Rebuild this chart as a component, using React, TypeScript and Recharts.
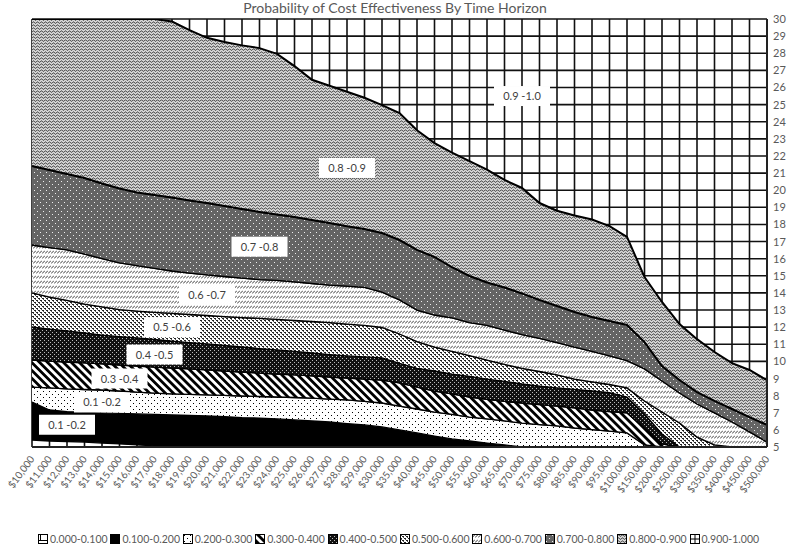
import React from "react";
import {
  AreaChart,
  Area,
  XAxis,
  YAxis,
  CartesianGrid,
  ReferenceDot,
} from "recharts";

// willingness-to-pay thresholds (x categories)
const COSTS = [
  "$10,000", "$11,000", "$12,000", "$13,000", "$14,000", "$15,000", "$16,000",
  "$17,000", "$18,000", "$19,000", "$20,000", "$21,000", "$22,000", "$23,000",
  "$24,000", "$25,000", "$26,000", "$27,000", "$28,000", "$29,000", "$30,000",
  "$35,000", "$40,000", "$45,000", "$50,000", "$55,000", "$60,000", "$65,000",
  "$70,000", "$75,000", "$80,000", "$85,000", "$90,000", "$95,000", "$100,000",
  "$150,000", "$200,000", "$250,000", "$300,000", "$350,000", "$400,000",
  "$450,000", "$500,000",
];

// time horizon (years) at which each probability contour sits
const C1 = [5.41, 5.35, 5.32, 5.29, 5.23, 5.18, 5.12, 5.06, 5, 5, 5, 5, 5, 5, 5, 5, 5, 5, 5, 5, 5, 5, 5, 5, 5, 5, 5, 5, 5, 5, 5, 5, 5, 5, 5, 5, 5, 5, 5, 5, 5, 5, 5];
const C2 = [7.63, 7.16, 7.07, 7.02, 6.99, 6.96, 6.93, 6.9, 6.87, 6.84, 6.81, 6.78, 6.72, 6.69, 6.64, 6.58, 6.52, 6.46, 6.37, 6.29, 6.17, 6.0, 5.82, 5.64, 5.47, 5.35, 5.23, 5.12, 5, 5, 5, 5, 5, 5, 5, 5, 5, 5, 5, 5, 5, 5, 5];
const C3 = [8.5, 8.45, 8.39, 8.36, 8.33, 8.27, 8.21, 8.15, 8.1, 8.07, 8.04, 8.01, 7.98, 7.95, 7.92, 7.89, 7.86, 7.8, 7.75, 7.66, 7.57, 7.39, 7.22, 7.04, 6.9, 6.75, 6.64, 6.52, 6.4, 6.31, 6.23, 6.11, 6.02, 5.93, 5.82, 5.12, 5, 5, 5, 5, 5, 5, 5];
const C4 = [10.08, 10.02, 9.96, 9.91, 9.85, 9.79, 9.73, 9.67, 9.61, 9.56, 9.5, 9.44, 9.38, 9.32, 9.26, 9.21, 9.15, 9.09, 9.03, 8.97, 8.91, 8.74, 8.5, 8.27, 8.1, 7.92, 7.78, 7.66, 7.57, 7.48, 7.39, 7.28, 7.16, 7.07, 6.99, 6.11, 5.18, 5, 5, 5, 5, 5, 5];
const C5 = [12.01, 11.89, 11.78, 11.66, 11.54, 11.45, 11.37, 11.28, 11.19, 11.1, 11.02, 10.93, 10.84, 10.75, 10.67, 10.58, 10.49, 10.4, 10.32, 10.26, 10.2, 9.88, 9.59, 9.44, 9.26, 9.12, 8.97, 8.83, 8.68, 8.56, 8.45, 8.36, 8.27, 8.18, 7.92, 6.93, 5.76, 5, 5, 5, 5, 5, 5];
const C6 = [14.0, 13.76, 13.56, 13.35, 13.18, 13.03, 12.94, 12.86, 12.8, 12.74, 12.68, 12.62, 12.56, 12.51, 12.45, 12.39, 12.33, 12.27, 12.18, 12.1, 11.98, 11.6, 11.16, 10.84, 10.58, 10.34, 10.08, 9.82, 9.59, 9.41, 9.21, 8.97, 8.8, 8.65, 8.45, 7.69, 7.04, 6.4, 5.58, 5.12, 5, 5, 5];
const C7 = [16.8, 16.65, 16.51, 16.27, 16.01, 15.75, 15.6, 15.43, 15.28, 15.16, 15.05, 14.96, 14.87, 14.78, 14.73, 14.64, 14.55, 14.46, 14.4, 14.32, 14.05, 13.59, 13.0, 12.71, 12.54, 12.27, 12.1, 11.83, 11.57, 11.34, 11.1, 10.84, 10.58, 10.32, 10.05, 9.56, 8.86, 8.15, 7.51, 6.99, 6.46, 5.88, 5.29];
const C8 = [21.41, 21.18, 20.95, 20.71, 20.39, 20.1, 19.87, 19.72, 19.57, 19.4, 19.25, 19.08, 18.9, 18.73, 18.58, 18.43, 18.26, 18.08, 17.9, 17.73, 17.5, 17.09, 16.51, 16.1, 15.5, 14.99, 14.61, 14.32, 13.97, 13.59, 13.24, 12.89, 12.59, 12.36, 12.13, 11.13, 9.73, 8.91, 8.21, 7.69, 7.22, 6.75, 6.29];
const C9 = [30, 30, 30, 30, 30, 30, 30, 30, 29.85, 29.35, 28.9, 28.66, 28.46, 28.3, 27.96, 27.25, 26.45, 26.1, 25.75, 25.4, 24.97, 24.5, 23.5, 22.75, 22.2, 21.7, 21.2, 20.6, 20.13, 19.25, 18.8, 18.52, 18.29, 17.9, 17.27, 14.93, 13.47, 12.18, 11.3, 10.55, 9.9, 9.5, 8.9];

const Y_TICKS = [5, 6, 7, 8, 9, 10, 11, 12, 13, 14, 15, 16, 17, 18, 19, 20, 21, 22, 23, 24, 25, 26, 27, 28, 29, 30];

const BAND_NAMES = [
  "0.000-0.100", "0.100-0.200", "0.200-0.300", "0.300-0.400", "0.400-0.500",
  "0.500-0.600", "0.600-0.700", "0.700-0.800", "0.800-0.900", "0.900-1.000",
];

const LABELS = [
  { text: "0.9 -1.0", cost: "$70,000", value: 25.5 },
  { text: "0.8 -0.9", cost: "$28,000", value: 21.3 },
  { text: "0.7 -0.8", cost: "$23,000", value: 16.7 },
  { text: "0.6 -0.7", cost: "$20,000", value: 13.9 },
  { text: "0.5 -0.6", cost: "$18,000", value: 12.0 },
  { text: "0.4 -0.5", cost: "$17,000", value: 10.4 },
  { text: "0.3 -0.4", cost: "$15,000", value: 9.0 },
  { text: "0.1 -0.2", cost: "$14,000", value: 7.6 },
  { text: "0.1 -0.2", cost: "$12,000", value: 6.3 },
];

const CONTOURS = [C1, C2, C3, C4, C5, C6, C7, C8, C9];

const data = COSTS.map((cost, i) => {
  const row: Record<string, any> = { cost, c0: 5, c10: 30 };
  CONTOURS.forEach((c, k) => (row[`c${k + 1}`] = c[i]));
  return row;
});

// fills for bands 0..9 (first and last are see-through so the grid shows)
const FILLS = [
  "none",
  "#000",
  "url(#pDots)",
  "url(#pStripes)",
  "url(#pDarkCheck)",
  "url(#pCheck)",
  "url(#pHatch)",
  "url(#pGreyDots)",
  "url(#pWave)",
  "none",
];

const FONT = "Lato, 'Open Sans', sans-serif";
const GREY = "#595959";

function Patterns() {
  return (
    <svg width={0} height={0} style={{ position: "absolute" }}>
      <defs>
        <pattern id="pDots" width={6} height={6} patternUnits="userSpaceOnUse">
          <rect width={6} height={6} fill="#fff" />
          <rect x={1} y={1} width={1} height={1} fill="#000" />
          <rect x={4} y={4} width={1} height={1} fill="#000" />
        </pattern>
        <pattern id="pStripes" width={5.6} height={10} patternUnits="userSpaceOnUse" patternTransform="rotate(-45)">
          <rect width={5.6} height={10} fill="#fff" />
          <rect width={2.8} height={10} fill="#000" />
        </pattern>
        <pattern id="pDarkCheck" width={4} height={4} patternUnits="userSpaceOnUse">
          <rect width={4} height={4} fill="#111" />
          <rect x={0} y={0} width={1} height={1} fill="#bbb" />
          <rect x={2} y={2} width={1} height={1} fill="#bbb" />
        </pattern>
        <pattern id="pCheck" width={4} height={4} patternUnits="userSpaceOnUse">
          <rect width={4} height={4} fill="#fff" />
          <rect x={0} y={0} width={2} height={1} fill="#222" />
          <rect x={2} y={2} width={2} height={1} fill="#222" />
          <rect x={1} y={1} width={1} height={1} fill="#555" />
          <rect x={3} y={3} width={1} height={1} fill="#555" />
        </pattern>
        <pattern id="pHatch" width={3} height={5} patternUnits="userSpaceOnUse">
          <rect width={3} height={5} fill="#fff" />
          <path d="M0,3.6 L3,0.6" stroke="#222" strokeWidth={0.9} />
        </pattern>
        <pattern id="pGreyDots" width={6} height={6} patternUnits="userSpaceOnUse">
          <rect width={6} height={6} fill="#646464" />
          <rect x={1} y={1} width={1} height={1} fill="#eee" />
          <rect x={4} y={4} width={1} height={1} fill="#eee" />
        </pattern>
        <pattern id="pWave" width={4} height={3} patternUnits="userSpaceOnUse">
          <rect width={4} height={3} fill="#d8d8d8" />
          <path d="M0,2.3 L1,0.9 L2,0.9 L3,2.3 L4,2.3" stroke="#444" strokeWidth={0.9} fill="none" />
        </pattern>
      </defs>
    </svg>
  );
}

function XTick({ x, y, payload }: any) {
  const ax = x + 3;
  const ay = y + 12;
  return (
    <text
      x={ax}
      y={ay}
      transform={`rotate(-54 ${ax} ${ay})`}
      textAnchor="end"
      fontSize={10}
      fill={GREY}
      fontFamily={FONT}
    >
      {payload.value}
    </text>
  );
}

function YTick({ x, y, payload }: any) {
  return (
    <text x={x} y={y} dy={4} textAnchor="start" fontSize={11} fill={GREY} fontFamily={FONT}>
      {payload.value}
    </text>
  );
}

function LabelBox(text: string) {
  return (props: any) => {
    const { cx, cy } = props;
    return (
      <g>
        <rect x={cx - 28} y={cy - 10} width={56} height={20} fill="#fff" />
        <text x={cx} y={cy + 4} textAnchor="middle" fontSize={11} fill="#404040" fontFamily={FONT}>
          {text}
        </text>
      </g>
    );
  };
}

function Swatch({ index }: { index: number }) {
  const fill = FILLS[index];
  return (
    <svg width={10} height={10} style={{ marginRight: 2, flex: "none" }}>
      <rect x={0.5} y={0.5} width={9} height={9} fill={fill === "none" ? "#fff" : fill} stroke="#000" />
      {index === 0 && <path d="M0.5,6.5 H9.5 M2.5,0.5 V6.5" stroke="#000" />}
      {index === 9 && <path d="M0.5,5 H9.5 M5,0.5 V9.5" stroke="#000" />}
    </svg>
  );
}

export default function App() {
  return (
    <div style={{ position: "absolute", left: 0, top: 0, width: 800, height: 558, background: "#fff", fontFamily: FONT }}>
      <Patterns />
      <div
        style={{
          position: "absolute",
          top: -1,
          left: 0,
          width: 790,
          textAlign: "center",
          fontSize: 14,
          color: GREY,
          lineHeight: "17px",
        }}
      >
        Probability of Cost Effectiveness By Time Horizon
      </div>
      <AreaChart width={800} height={558} data={data} margin={{ top: 19, right: 0, left: 32, bottom: 0 }}>
        <CartesianGrid stroke="#111" strokeWidth={1.6} vertical horizontal />
        <XAxis
          dataKey="cost"
          interval={0}
          height={111}
          tickSize={0}
          tickMargin={0}
          tick={<XTick />}
          axisLine={{ stroke: "#222", strokeWidth: 2 }}
          tickLine={false}
        />
        <YAxis
          orientation="right"
          width={33}
          domain={[5, 30]}
          ticks={Y_TICKS}
          interval={0}
          allowDataOverflow
          tickSize={0}
          tickMargin={6}
          tick={<YTick />}
          axisLine={{ stroke: "#222", strokeWidth: 2 }}
          tickLine={false}
        />
        {[1, 2, 3, 4, 5, 6, 7, 8].map((k) => (
          <Area
            key={k}
            type="linear"
            dataKey={(d: any) => [d[`c${k}`], d[`c${k + 1}`]]}
            name={BAND_NAMES[k]}
            fill={FILLS[k]}
            fillOpacity={1}
            stroke="#000"
            strokeWidth={k === 8 ? 2 : 1.3}
            dot={false}
            activeDot={false}
            isAnimationActive={false}
          />
        ))}
        {LABELS.map((l, i) => (
          <ReferenceDot
            key={i}
            x={l.cost}
            y={l.value}
            r={0}
            ifOverflow="visible"
            shape={LabelBox(l.text)}
          />
        ))}
      </AreaChart>
      <div style={{ position: "absolute", top: 533, left: 38, display: "flex" }}>
        {BAND_NAMES.map((n, i) => (
          <div key={n} style={{ width: 72.4, display: "flex", alignItems: "center", fontSize: 10.5, color: GREY }}>
            <Swatch index={i} />
            <span>{n}</span>
          </div>
        ))}
      </div>
    </div>
  );
}
